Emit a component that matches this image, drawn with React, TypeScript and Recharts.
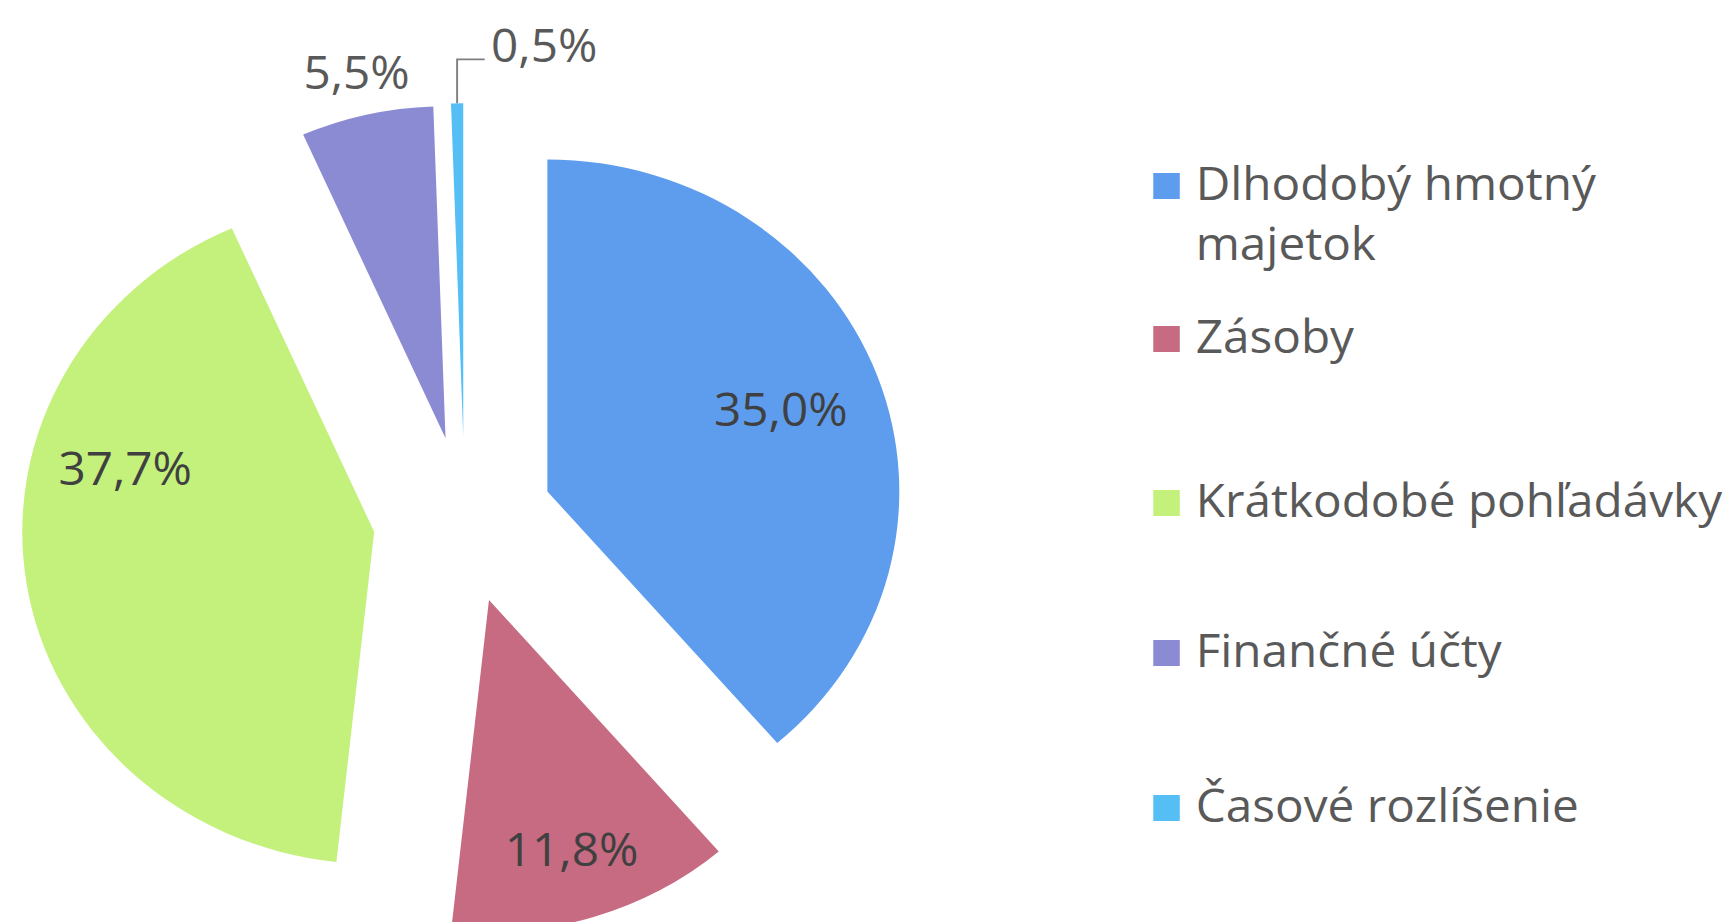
import React from 'react';
import { PieChart, Pie, Cell, Legend } from 'recharts';

// ---- data ----
const CATEGORIES = [
  'Dlhodobý hmotný majetok',
  'Zásoby',
  'Krátkodobé pohľadávky',
  'Finančné účty',
  'Časové rozlíšenie',
];
const SHARES = [35.0, 11.8, 37.7, 5.5, 0.5];

// ---- style ----
const COLORS = ['#5E9DEE', '#C66B82', '#C4F07C', '#8B8BD4', '#54BEF5'];
const FONT = '"Open Sans", "Noto Sans", sans-serif';
const STRETCH_X = 1.06;
const W = 1636;
const H = 922;
const CENTER = { x: 440, y: 500 };
const RADIUS = 332;
// explosion offset of every slice from the pie centre
const EXPLODE: number[][] = [
  [76.4, -8.5],
  [21.3, 100],
  [-87, 31.8],
  [-19.7, -61.8],
  [-3, -64.7],
];
// label placement relative to each exploded slice
const LABEL_R = [235, 262, 243, 375, 332];
const LABEL_SHIFT = [0, 0, -23.75, 0, 0];
const LEGEND_TOPS = [152.5, 305.5, 469.5, 619.5, 774.5];

const data = CATEGORIES.map((name, i) => ({ name, value: SHARES[i] }));

const RAD = Math.PI / 180;
const fmt = (v: number) => v.toFixed(1).replace('.', ',') + '%';

const makeLabel = (k: number) => (props: any) => {
  const { index, midAngle } = props;
  if (index !== k) return null;
  const cx = props.cx ?? CENTER.x + EXPLODE[k][0];
  const cy = props.cy ?? CENTER.y + EXPLODE[k][1];
  const a = (midAngle + LABEL_SHIFT[k]) * RAD;
  const r = LABEL_R[k];
  const x = cx + r * Math.cos(-a);
  const y = cy + r * Math.sin(-a);
  if (k === 4) {
    const y1 = y - 44;
    const x1 = x + 26;
    return (
      <g>
        <polyline
          points={`${x},${y} ${x},${y1} ${x1},${y1}`}
          fill="none"
          stroke="#7F7F7F"
          strokeWidth={1.8}
        />
        <text x={x1 + 6} y={y1 + 2.5} fontSize={45} fontFamily={FONT} fill="#595959">
          {fmt(SHARES[index])}
        </text>
      </g>
    );
  }
  const inside = r < RADIUS;
  return (
    <text
      x={x}
      y={y + 16}
      textAnchor="middle"
      fontSize={45}
      fontFamily={FONT}
      fill={inside ? '#404040' : '#595959'}
    >
      {fmt(SHARES[index])}
    </text>
  );
};

const renderLegend = () => (
  <div
    style={{
      position: 'relative',
      width: 548,
      height: H,
      fontFamily: FONT,
      fontSize: 45,
      lineHeight: '60px',
      color: '#595959',
    }}
  >
    {CATEGORIES.map((name, i) => (
      <div key={name} style={{ position: 'absolute', left: 0, top: LEGEND_TOPS[i] }}>
        <span
          style={{
            position: 'absolute',
            left: 0,
            top: 20,
            width: 25,
            height: 26,
            background: COLORS[i],
          }}
        />
        <div
          style={{
            marginLeft: 40,
            width: i === 0 ? 420 : undefined,
            whiteSpace: i === 0 ? 'normal' : 'nowrap',
          }}
        >
          {name}
        </div>
      </div>
    ))}
  </div>
);

export default function App() {
  return (
    <div
      style={{
        position: 'fixed',
        left: 0,
        top: 0,
        width: 1734,
        height: 922,
        overflow: 'hidden',
        background: '#ffffff',
      }}
    >
      <div style={{ width: W, height: H, transform: `scaleX(${STRETCH_X})`, transformOrigin: '0 0' }}>
        <PieChart width={W} height={H} margin={{ top: 0, right: 0, bottom: 0, left: 0 }}>
          {SHARES.map((_, k) => (
            <Pie
              key={k}
              data={data}
              dataKey="value"
              nameKey="name"
              cx={CENTER.x + EXPLODE[k][0]}
              cy={CENTER.y + EXPLODE[k][1]}
              innerRadius={0}
              outerRadius={RADIUS}
              startAngle={90}
              endAngle={-270}
              stroke="none"
              isAnimationActive={false}
              labelLine={false}
              label={makeLabel(k)}
            >
              {data.map((d, i) => (
                <Cell key={d.name} fill={i === k ? COLORS[i] : 'none'} stroke="none" />
              ))}
            </Pie>
          ))}
          <Legend
            layout="vertical"
            align="right"
            verticalAlign="top"
            content={renderLegend}
            wrapperStyle={{ left: 1088, top: 0, width: 548, height: H }}
          />
        </PieChart>
      </div>
    </div>
  );
}
